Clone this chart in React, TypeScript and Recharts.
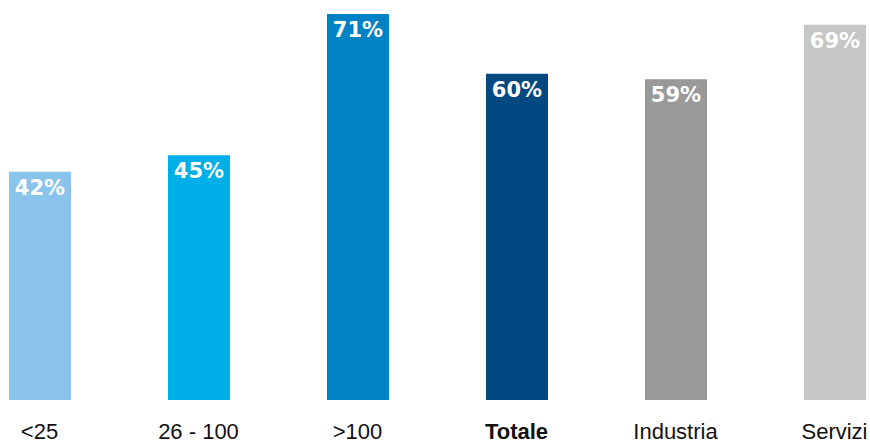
import { BarChart, Bar, XAxis, YAxis, Cell, LabelList } from 'recharts';

const categories = ['<25', '26 - 100', '>100', 'Totale', 'Industria', 'Servizi'];
const values = [42, 45, 71, 60, 59, 69];
const colors = ['#89C4EC', '#00AEE8', '#0082C4', '#02497F', '#999999', '#C6C6C6'];

const data = categories.map((name, i) => ({ name, value: values[i] }));

const TickLabel = (props: any) => {
  const { x, y, payload } = props;
  const bold = payload.value === 'Totale';
  return (
    <text
      x={x}
      y={y}
      dy={39}
      textAnchor="middle"
      fill="#111"
      fontSize={22}
      fontWeight={bold ? 700 : 400}
      fontFamily="'Liberation Sans', Arial, sans-serif"
    >
      {payload.value}
    </text>
  );
};

export default function App() {
  return (
    <div style={{ position: 'absolute', left: 0, top: 0, width: 870, height: 444, overflow: 'hidden', background: '#fff' }}>
      <div style={{ position: 'absolute', left: -40, top: 0 }}>
        <BarChart width={954} height={444} data={data} margin={{ top: 14, right: 0, bottom: 0, left: 0 }}>
          <XAxis
            dataKey="name"
            axisLine={false}
            tickLine={false}
            tickSize={0}
            tickMargin={0}
            height={44}
            interval={0}
            tick={<TickLabel />}
          />
          <YAxis hide domain={[0, 71]} />
          <Bar dataKey="value" barSize={62} isAnimationActive={false}>
            {data.map((d, i) => (
              <Cell key={d.name} fill={colors[i]} />
            ))}
            <LabelList
              dataKey="value"
              position="insideTop"
              offset={8}
              formatter={(v: any) => `${v}%`}
              fill="#fff"
              fontSize={21}
              fontWeight={700}
              fontFamily="'DejaVu Sans', sans-serif"
            />
          </Bar>
        </BarChart>
      </div>
    </div>
  );
}
